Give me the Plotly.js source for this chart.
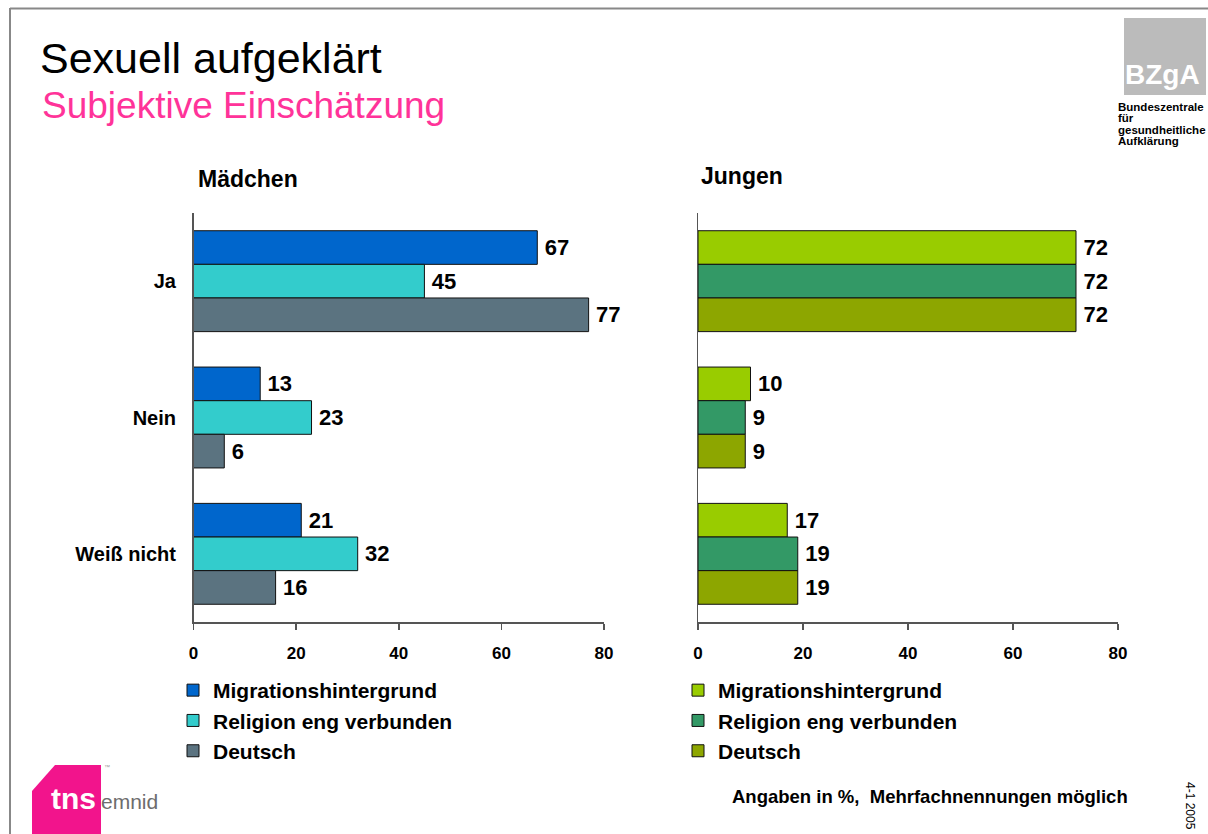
<!DOCTYPE html>
<html>
<head>
<meta charset="utf-8">
<script src="https://cdn.plot.ly/plotly-3.0.1.min.js"></script>
<style>
html,body{margin:0;padding:0;background:#fff;}
#chart{width:1208px;height:834px;}
</style>
</head>
<body>
<div id="chart"></div>
<script>
// ---- data ----
const categories = ['Ja', 'Nein', 'Weiß nicht'];
const seriesNames = ['Migrationshintergrund', 'Religion eng verbunden', 'Deutsch'];
const maedchenMigration = [67, 13, 21];
const maedchenReligion = [45, 23, 32];
const maedchenDeutsch = [77, 6, 16];
const jungenMigration = [72, 10, 17];
const jungenReligion = [72, 9, 19];
const jungenDeutsch = [72, 9, 19];
const xTickVals = [0, 20, 40, 60, 80];
const xTickText = ['0', '20', '40', '60', '80'];

const W = 1208, H = 834;
const px = x => x / W;
const py = y => 1 - y / H;
const FONT = 'Liberation Sans, Arial, Helvetica, sans-serif';

const leftColors = ['#0066CC', '#33CCCC', '#5B7380'];
const rightColors = ['#99CC00', '#339966', '#8DA600'];

function barTrace(vals, name, color, xa, ya, leg) {
  return {
    type: 'bar', orientation: 'h',
    x: vals, y: categories, name: name,
    xaxis: xa, yaxis: ya, legend: leg,
    legendgroup: leg + name,
    marker: {color: color, line: {color: '#111', width: 1}},
    text: vals.map(v => '\u2009' + v), textposition: 'outside', constraintext: 'none',
    cliponaxis: false,
    textfont: {family: FONT, size: 22, weight: 'bold', color: '#000'},
    hoverinfo: 'skip'
  };
}

const data = [
  barTrace(maedchenMigration, seriesNames[0], leftColors[0], 'x', 'y', 'legend'),
  barTrace(maedchenReligion, seriesNames[1], leftColors[1], 'x', 'y', 'legend'),
  barTrace(maedchenDeutsch, seriesNames[2], leftColors[2], 'x', 'y', 'legend'),
  barTrace(jungenMigration, seriesNames[0], rightColors[0], 'x2', 'y2', 'legend2'),
  barTrace(jungenReligion, seriesNames[1], rightColors[1], 'x2', 'y2', 'legend2'),
  barTrace(jungenDeutsch, seriesNames[2], rightColors[2], 'x2', 'y2', 'legend2')
];

const xAxisBase = {
  range: [0, 80], tickvals: xTickVals, ticktext: xTickText,
  showgrid: false, zeroline: false, showline: true,
  linecolor: '#555', linewidth: 1.5,
  ticks: 'outside', ticklen: 6, tickcolor: '#555', tickwidth: 1.5,
  tickfont: {family: FONT, size: 17, weight: 'bold', color: '#000'},
  ticklabelstandoff: 9, fixedrange: true
};
const yDomain = [py(622), py(213)];
const yAxisBase = {
  type: 'category', range: [2.5, -0.5], domain: yDomain,
  showgrid: false, zeroline: false, showline: true,
  linecolor: '#555', linewidth: 1.5, ticks: '', fixedrange: true
};

const legendBase = {
  orientation: 'v', xanchor: 'left', yanchor: 'top',
  font: {family: FONT, size: 21, weight: 'bold', color: '#000'},
  bgcolor: 'rgba(0,0,0,0)', borderwidth: 0,
  traceorder: 'grouped', tracegroupgap: 0, itemclick: false, itemdoubleclick: false
};

function ann(text, x, y, size, opts) {
  return Object.assign({
    text: text, x: px(x), y: py(y), xref: 'paper', yref: 'paper',
    xanchor: 'left', yanchor: 'middle', showarrow: false,
    font: {family: FONT, size: size, color: '#000'}
  }, opts || {});
}

const layout = {
  width: W, height: H, autosize: false,
  margin: {l: 0, r: 0, t: 0, b: 0},
  paper_bgcolor: '#fff', plot_bgcolor: 'rgba(0,0,0,0)',
  barmode: 'group', bargap: 0.26, bargroupgap: 0,
  showlegend: true,
  title: {
    text: 'Sexuell aufgeklärt', x: px(40), xanchor: 'left', xref: 'paper',
    y: py(57.5), yanchor: 'middle', yref: 'paper',
    font: {family: FONT, size: 43, color: '#000'}
  },
  xaxis: Object.assign({}, xAxisBase, {domain: [px(193.5), px(604)], anchor: 'y'}),
  yaxis: Object.assign({}, yAxisBase, {
    anchor: 'x', showticklabels: true, ticklabelstandoff: 12,
    tickfont: {family: FONT, size: 20, weight: 'bold', color: '#000'}
  }),
  xaxis2: Object.assign({}, xAxisBase, {domain: [px(698), px(1118)], anchor: 'y2'}),
  yaxis2: Object.assign({}, yAxisBase, {anchor: 'x2', showticklabels: false}),
  legend: Object.assign({}, legendBase, {x: px(173), y: py(670)}),
  legend2: Object.assign({}, legendBase, {x: px(678), y: py(670)}),
  shapes: [
    {type: 'line', xref: 'paper', yref: 'paper', x0: px(10), x1: px(1208), y0: py(8.5), y1: py(8.5), line: {color: '#888', width: 2}},
    {type: 'line', xref: 'paper', yref: 'paper', x0: px(10), x1: px(10), y0: py(8), y1: py(834), line: {color: '#888', width: 2}},
    {type: 'rect', xref: 'paper', yref: 'paper', x0: px(1124), x1: px(1206), y0: py(95), y1: py(18), fillcolor: '#BBBBBB', line: {width: 0}},
    {type: 'path', xref: 'paper', yref: 'paper',
     path: 'M' + px(32) + ',' + py(834) + ' L' + px(32) + ',' + py(791) + ' L' + px(55) + ',' + py(765) +
           ' L' + px(101) + ',' + py(765) + ' L' + px(101) + ',' + py(834) + ' Z',
     fillcolor: '#F2148C', line: {width: 0}}
  ],
  annotations: [
    ann('Subjektive Einschätzung', 40, 105.5, 37, {font: {family: FONT, size: 37, color: '#FF3399'}}),
    ann('<b>Mädchen</b>', 196, 178.5, 23),
    ann('<b>Jungen</b>', 699, 176, 23),
    ann('<b>BZgA</b>', 1123, 74, 28, {font: {family: FONT, size: 28, color: '#fff'}}),
    ann('<b>Bundeszentrale</b>', 1116, 106.8, 11.5),
    ann('<b>für</b>', 1116, 118.3, 11.5),
    ann('<b>gesundheitliche</b>', 1116, 129.8, 11.5),
    ann('<b>Aufklärung</b>', 1116, 141.3, 11.5),
    ann('<b>Angaben in %,\u00a0 Mehrfachnennungen möglich</b>', 730, 796, 18.5),
    ann('4-1 2005', 1190, 806, 12, {xanchor: 'center', textangle: 90}),
    ann('<b>tns</b>', 49, 798, 30, {font: {family: FONT, size: 30, color: '#fff'}}),
    ann('emnid', 99, 801, 21, {font: {family: FONT, size: 21, color: '#6d6d6d'}}),
    ann('™', 102, 767, 6, {font: {family: FONT, size: 6, color: '#999'}})
  ]
};

Plotly.newPlot('chart', data, layout, {displayModeBar: false, staticPlot: true});
</script>
</body>
</html>
